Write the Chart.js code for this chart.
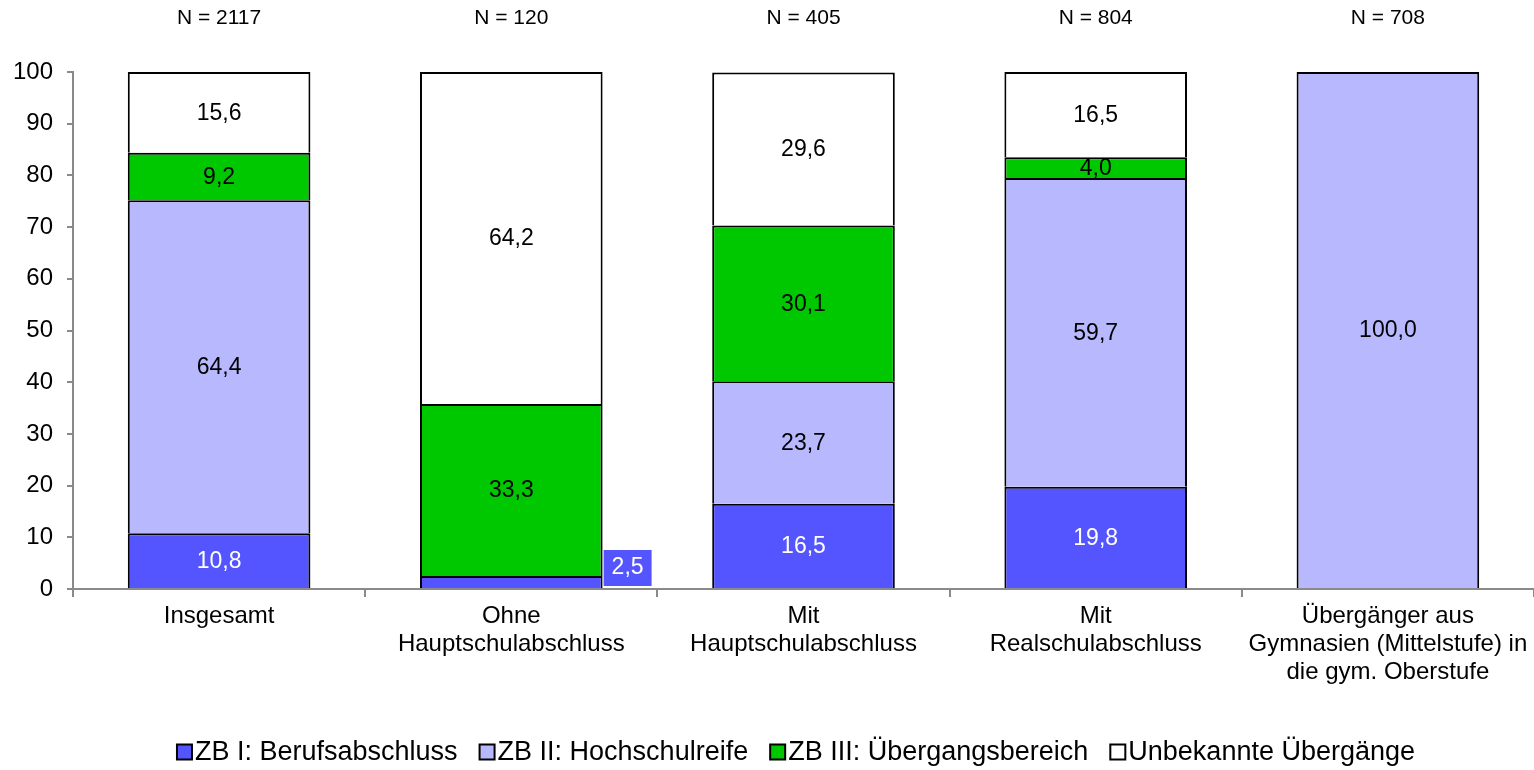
<!DOCTYPE html>
<html>
<head>
<meta charset="utf-8">
<script src="https://cdn.jsdelivr.net/npm/chart.js@4.4.0/dist/chart.umd.min.js"></script>
<style>
  html, body { margin: 0; padding: 0; background: #fff; }
  #wrap { width: 1534px; height: 770px; position: relative; }
</style>
</head>
<body>
<div id="wrap"><canvas id="chart"></canvas></div>
<script>
const categories = [
    "Insgesamt",
    ["Ohne", "Hauptschulabschluss"],
    ["Mit", "Hauptschulabschluss"],
    ["Mit", "Realschulabschluss"],
    ["Übergänger aus", "Gymnasien (Mittelstufe) in", "die gym. Oberstufe"]
];
const nWerte = [2117, 120, 405, 804, 708];

const zb1 = [10.8, 2.5, 16.5, 19.8, 0];
const zb2 = [64.4, 0, 23.7, 59.7, 100.0];
const zb3 = [9.2, 33.3, 30.1, 4.0, 0];
const unbekannt = [15.6, 64.2, 29.6, 16.5, 0];

const serienNamen = ["ZB I: Berufsabschluss", "ZB II: Hochschulreife", "ZB III: Übergangsbereich", "Unbekannte Übergänge"];
const serienFarben = ["#5555ff", "#b8b8ff", "#00c800", "#ffffff"];
const labelFarben = ["#ffffff", "#000000", "#000000", "#000000"];
const yTicks = [0, 10, 20, 30, 40, 50, 60, 70, 80, 90, 100];

const FONT = "'Liberation Sans', Arial, sans-serif";
const AXIS = "#8a8a8a";

function fmt(v) {
    return v.toFixed(1).replace(".", ",");
}

/* ===========================
   PLUGINS
=========================== */
const werteLabels = {
    id: "werteLabels",
    afterDatasetsDraw(chart) {
        const ctx = chart.ctx;
        ctx.save();
        ctx.font = "23px " + FONT;
        ctx.textAlign = "center";
        ctx.textBaseline = "middle";
        chart.data.datasets.forEach((ds, i) => {
            const meta = chart.getDatasetMeta(i);
            meta.data.forEach((bar, j) => {
                const v = ds.data[j];
                if (!v) return;
                const text = fmt(v);
                const h = Math.abs(bar.base - bar.y);
                if (v < 3) {
                    // kleiner Wert: Label rechts neben dem Balken
                    const w = ctx.measureText(text).width + 16;
                    const x0 = bar.x + bar.width / 2 + 1;
                    const y1 = bar.base - 2;
                    ctx.fillStyle = serienFarben[i];
                    ctx.fillRect(x0, y1 - 36, w, 36);
                    ctx.fillStyle = labelFarben[i];
                    ctx.fillText(text, x0 + w / 2, y1 - 18);
                } else {
                    ctx.fillStyle = labelFarben[i];
                    ctx.fillText(text, bar.x, bar.y + h / 2 + 1);
                }
            });
        });
        ctx.restore();
    }
};

const nLabels = {
    id: "nLabels",
    afterDraw(chart) {
        const ctx = chart.ctx;
        const x = chart.scales.x;
        ctx.save();
        ctx.font = "21px " + FONT;
        ctx.fillStyle = "#000";
        ctx.textAlign = "center";
        ctx.textBaseline = "middle";
        nWerte.forEach((n, i) => {
            ctx.fillText("N = " + n, x.getPixelForValue(i), 18);
        });
        ctx.restore();
    }
};

const legende = {
    id: "legende",
    afterDraw(chart) {
        const ctx = chart.ctx;
        ctx.save();
        ctx.font = "27px " + FONT;
        ctx.textBaseline = "middle";
        const box = 15, gap = 3, itemGap = 22;
        const widths = serienNamen.map(s => box + gap + ctx.measureText(s).width);
        const total = widths.reduce((a, b) => a + b, 0) + itemGap * (widths.length - 1);
        let x = 796 - total / 2;
        const y = 752;
        serienNamen.forEach((s, i) => {
            ctx.fillStyle = serienFarben[i];
            ctx.fillRect(x, y - box / 2, box, box);
            ctx.strokeStyle = "#000";
            ctx.lineWidth = 2;
            ctx.strokeRect(x, y - box / 2, box, box);
            ctx.fillStyle = "#000";
            ctx.fillText(s, x + box + gap, y + 1);
            x += widths[i] + itemGap;
        });
        ctx.restore();
    }
};

/* ===========================
   CHART
=========================== */
const reihen = [zb1, zb2, zb3, unbekannt];

new Chart(document.getElementById("chart"), {
    type: "bar",
    data: {
        labels: categories,
        datasets: reihen.map((r, i) => ({
            label: serienNamen[i],
            data: r.map(v => v || null),
            backgroundColor: serienFarben[i],
            borderColor: "#000",
            borderWidth: { top: 2, left: 2, right: 2, bottom: 0 },
            borderSkipped: false,
            barPercentage: 0.625,
            categoryPercentage: 1.0
        }))
    },
    options: {
        responsive: true,
        maintainAspectRatio: false,
        animation: false,
        layout: { padding: { top: 72, right: 0, bottom: 0, left: 0 } },
        plugins: {
            legend: { display: false },
            tooltip: { enabled: false }
        },
        scales: {
            x: {
                stacked: true,
                afterFit: s => { s.height = 181; },
                border: { color: AXIS, width: 2 },
                grid: {
                    offset: true,
                    drawOnChartArea: false,
                    drawTicks: true,
                    tickLength: 8,
                    color: AXIS,
                    lineWidth: 2
                },
                ticks: {
                    color: "#000",
                    padding: 5,
                    maxRotation: 0,
                    autoSkip: false,
                    font: { family: FONT, size: 24, lineHeight: 1.17 }
                }
            },
            y: {
                stacked: true,
                min: 0,
                max: 100,
                afterFit: s => { s.width = 73; },
                afterBuildTicks: s => { s.ticks = yTicks.map(v => ({ value: v })); },
                border: { color: AXIS, width: 2 },
                grid: {
                    drawOnChartArea: false,
                    drawTicks: true,
                    tickLength: 6,
                    color: AXIS,
                    lineWidth: 2
                },
                ticks: {
                    color: "#000",
                    padding: 14,
                    font: { family: FONT, size: 24 }
                }
            }
        }
    },
    plugins: [werteLabels, nLabels, legende]
});
</script>
</body>
</html>
